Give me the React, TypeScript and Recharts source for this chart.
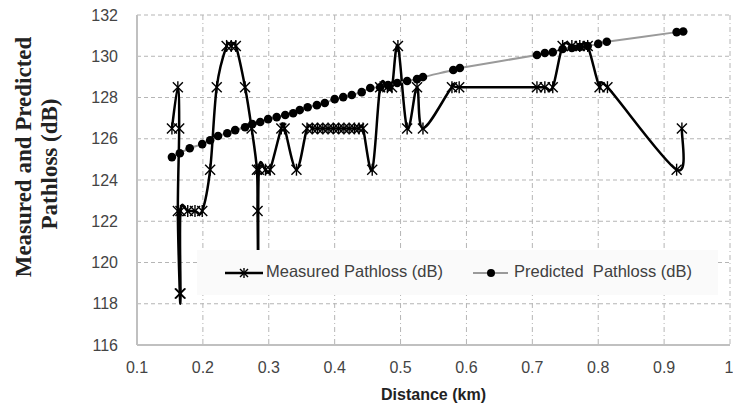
import React from "react";
import { CartesianGrid, Label, Legend, Line, LineChart, XAxis, YAxis } from "recharts";

// distance (km) / pathloss (dB)
const measuredDist = [
  0.153, 0.162, 0.164, 0.162, 0.165, 0.166, 0.166, 0.177, 0.188, 0.199, 0.211, 0.221, 0.236, 0.243,
  0.25, 0.264, 0.274, 0.282, 0.283, 0.284, 0.285, 0.295, 0.302, 0.319, 0.324, 0.342, 0.358, 0.366,
  0.374, 0.382, 0.39, 0.398, 0.406, 0.414, 0.422, 0.43, 0.437, 0.443, 0.457, 0.469, 0.48, 0.487,
  0.496, 0.51, 0.525, 0.534, 0.578, 0.589, 0.707, 0.719, 0.731, 0.746, 0.76, 0.772, 0.784, 0.802,
  0.814, 0.919, 0.927
];
const measuredLoss = [
  126.5, 128.5, 126.5, 122.5, 118.5, 118.5, 122.5, 122.5, 122.5, 122.5, 124.5, 128.5, 130.5, 130.5,
  130.5, 128.5, 126.5, 124.5, 122.5, 119.5, 124.5, 124.5, 124.5, 126.5, 126.5, 124.5, 126.5, 126.5,
  126.5, 126.5, 126.5, 126.5, 126.5, 126.5, 126.5, 126.5, 126.5, 126.5, 124.5, 128.5, 128.5, 128.5,
  130.5, 126.5, 128.5, 126.5, 128.5, 128.5, 128.5, 128.5, 128.5, 130.5, 130.5, 130.5, 130.5, 128.5,
  128.5, 124.5, 126.5
];

const predictedDist = [
  0.153, 0.165, 0.18, 0.199, 0.211, 0.223, 0.237, 0.249, 0.264, 0.275, 0.287, 0.299, 0.312, 0.325,
  0.337, 0.347, 0.359, 0.373, 0.385, 0.4, 0.413, 0.426, 0.441, 0.454, 0.469, 0.481, 0.495, 0.51,
  0.525, 0.534, 0.58, 0.59, 0.707, 0.719, 0.731, 0.746, 0.76, 0.772, 0.784, 0.8, 0.813, 0.919, 0.929
];
const predictedLoss = [
  125.11, 125.3, 125.54, 125.74, 125.93, 126.13, 126.27, 126.42, 126.56, 126.71, 126.81, 126.95,
  127.05, 127.15, 127.24, 127.39, 127.53, 127.63, 127.73, 127.92, 128.02, 128.12, 128.26, 128.46,
  128.5, 128.6, 128.7, 128.8, 128.89, 128.99, 129.33, 129.43, 130.06, 130.16, 130.2, 130.35, 130.4,
  130.45, 130.5, 130.6, 130.7, 131.17, 131.2
];

const xTicks = [0.1, 0.2, 0.3, 0.4, 0.5, 0.6, 0.7, 0.8, 0.9, 1];
const yTicks = [116, 118, 120, 122, 124, 126, 128, 130, 132];

const measuredData = measuredDist.map((d, i) => ({ d, loss: measuredLoss[i] }));
const predictedData = predictedDist.map((d, i) => ({ d, loss: predictedLoss[i] }));

const SANS = '"Liberation Sans", Arial, sans-serif';
const tickStyle = { fill: "#444", fontSize: 16, fontFamily: SANS };

// Excel-style smoothed line (Catmull-Rom as cubic beziers)
function excelSmooth(context: any) {
  let pts: number[][] = [];
  return {
    areaStart() {},
    areaEnd() {},
    lineStart() {
      pts = [];
    },
    point(x: number, y: number) {
      pts.push([+x, +y]);
    },
    lineEnd() {
      if (!pts.length) return;
      context.moveTo(pts[0][0], pts[0][1]);
      for (let i = 0; i < pts.length - 1; i++) {
        const p0 = pts[i - 1] || pts[i];
        const p1 = pts[i];
        const p2 = pts[i + 1];
        const p3 = pts[i + 2] || p2;
        context.bezierCurveTo(
          p1[0] + (p2[0] - p0[0]) / 6,
          p1[1] + (p2[1] - p0[1]) / 6,
          p2[0] - (p3[0] - p1[0]) / 6,
          p2[1] - (p3[1] - p1[1]) / 6,
          p2[0],
          p2[1]
        );
      }
    }
  };
}

function Star({ cx, cy, s = 5 }: { cx?: number; cy?: number; s?: number }) {
  if (cx == null || cy == null) return null;
  return (
    <g stroke="#000" strokeWidth={1.4}>
      <line x1={cx - s} y1={cy - s} x2={cx + s} y2={cy + s} />
      <line x1={cx - s} y1={cy + s} x2={cx + s} y2={cy - s} />
      <line x1={cx} y1={cy - s - 1} x2={cx} y2={cy + s + 1} />
    </g>
  );
}

function YTitle() {
  return (
    <g fontFamily='"Liberation Serif", "Times New Roman", serif' fontWeight="bold" fontSize={23} fill="#222">
      <text x={23} y={157} transform="rotate(-90 23 157)" textAnchor="middle" dominantBaseline="central">
        Measured and Predicted
      </text>
      <text x={49} y={164} transform="rotate(-90 49 164)" textAnchor="middle" dominantBaseline="central">
        Pathloss (dB)
      </text>
    </g>
  );
}

function ChartLegend() {
  return (
    <div
      style={{
        width: 521,
        height: 45,
        background: "#fafafa",
        position: "relative",
        fontFamily: SANS,
        fontSize: 16.5,
        color: "#404040",
        whiteSpace: "nowrap"
      }}
    >
      <svg width={521} height={45} style={{ position: "absolute", left: 0, top: 0 }}>
        <line x1={28} y1={23} x2={66} y2={23} stroke="#000" strokeWidth={2.5} />
        <Star cx={47} cy={23} s={4} />
        <line x1={276} y1={23} x2={311} y2={23} stroke="#9a9a9a" strokeWidth={2} />
        <circle cx={294} cy={23} r={4} fill="#000" />
      </svg>
      <span style={{ position: "absolute", left: 69, top: 12 }}>Measured Pathloss (dB)</span>
      <span style={{ position: "absolute", left: 317, top: 12 }}>Predicted&nbsp; Pathloss (dB)</span>
    </div>
  );
}

export default function App() {
  return (
    <div style={{ position: "absolute", left: 0, top: 0, width: 733, height: 411, background: "#fff" }}>
      <LineChart width={733} height={411} margin={{ top: 15, right: 3, bottom: 0, left: 0 }}>
        <CartesianGrid vertical={false} stroke="#b5b5b5" strokeDasharray="4 3" />
        <CartesianGrid horizontal={false} stroke="#b5b5b5" strokeDasharray="5 3 1 3" />
        <XAxis
          type="number"
          dataKey="d"
          domain={[0.1, 1]}
          ticks={xTicks}
          tickFormatter={(v) => String(v)}
          height={66}
          tickLine={false}
          tickSize={0}
          tickMargin={17}
          axisLine={{ stroke: "#c0c0c0", strokeWidth: 2 }}
          tick={tickStyle}
          allowDuplicatedCategory={false}
        >
          <Label
            value="Distance (km)"
            position="insideBottom"
            offset={11}
            style={{ fontFamily: SANS, fontWeight: "bold", fontSize: 16, fill: "#222" }}
          />
        </XAxis>
        <YAxis
          type="number"
          domain={[116, 132]}
          ticks={yTicks}
          width={137}
          tickLine={false}
          tickSize={0}
          tickMargin={19}
          axisLine={{ stroke: "#c0c0c0", strokeWidth: 2 }}
          tick={tickStyle}
        >
          <Label content={() => <YTitle />} />
        </YAxis>
        <Legend
          layout="horizontal"
          align="center"
          verticalAlign="middle"
          wrapperStyle={{ left: 197, top: 250, width: 521, height: 45 }}
          content={() => <ChartLegend />}
        />
        <Line
          data={measuredData}
          dataKey="loss"
          type={excelSmooth as any}
          stroke="#000"
          strokeWidth={2.5}
          dot={(p: any) => <Star key={`m-${p.index}`} cx={p.cx} cy={p.cy} />}
          activeDot={false}
          isAnimationActive={false}
          legendType="none"
        />
        <Line
          data={predictedData}
          dataKey="loss"
          type={excelSmooth as any}
          stroke="#9a9a9a"
          strokeWidth={2}
          dot={(p: any) => <circle key={`p-${p.index}`} cx={p.cx} cy={p.cy} r={4.3} fill="#000" />}
          activeDot={false}
          isAnimationActive={false}
          legendType="none"
        />
      </LineChart>
    </div>
  );
}
